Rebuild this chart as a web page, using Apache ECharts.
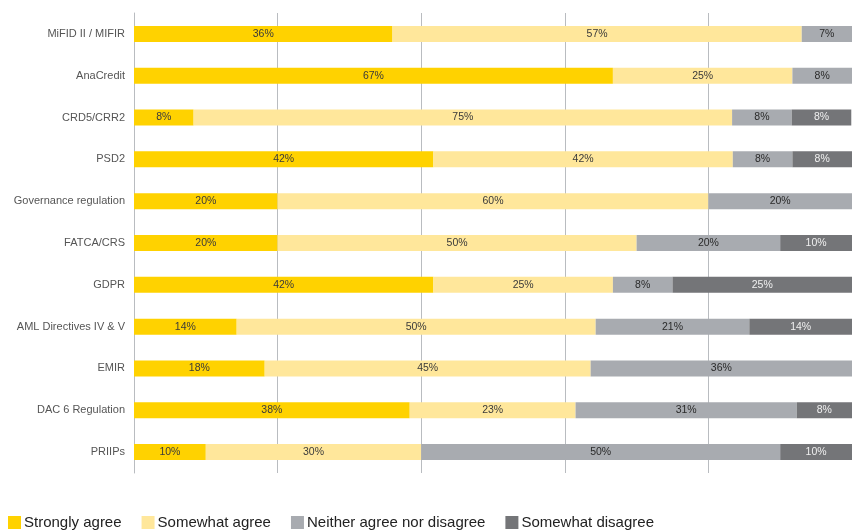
<!DOCTYPE html>
<html><head><meta charset="utf-8">
<script src="https://cdn.jsdelivr.net/npm/echarts@6/dist/echarts.min.js"></script>
<style>html,body{margin:0;padding:0;background:#fff}#c{width:852px;height:532px}</style>
</head><body><div id="c"></div>
<script>
const categories = ["MiFID II / MIFIR","AnaCredit","CRD5/CRR2","PSD2","Governance regulation","FATCA/CRS","GDPR","AML Directives IV & V","EMIR","DAC 6 Regulation","PRIIPs"];
const seriesNames = ["Strongly agree","Somewhat agree","Neither agree nor disagree","Somewhat disagree"];
const stronglyAgree   = [36, 66.7, 8.3, 41.7, 20, 20, 41.7, 14.3, 18.2, 38.4, 10];
const somewhatAgree   = [57, 25, 75, 41.7, 60, 50, 25, 50, 45.4, 23.1, 30];
const neither         = [7, 8.3, 8.3, 8.3, 20, 20, 8.3, 21.4, 36.4, 30.8, 50];
const somewhatDisagree= [0, 0, 8.3, 8.3, 0, 10, 25, 14.3, 0, 7.7, 10];
const colors = ["#FFD200","#FFE79B","#A8ABB0","#747578"];
const labelColors = ["#3a3a3a","#3a3a3a","#2a2a2a","#f0f0f0"];
const values = [stronglyAgree, somewhatAgree, neither, somewhatDisagree];
const font = "Liberation Sans, Arial, sans-serif";
const chart = echarts.init(document.getElementById('c'));
chart.setOption({
  animation:false,
  grid:{left:134,right:0,top:13,bottom:59,containLabel:false},
  legend:{left:3,bottom:-3,itemWidth:13,itemHeight:13,itemGap:20,icon:'rect',
    textStyle:{fontFamily:font,fontSize:15,color:'#222',padding:[0,0,0,-2]},data:seriesNames},
  xAxis:{type:'value',min:0,max:100,interval:20,axisLabel:{show:false},axisTick:{show:false},axisLine:{show:false},
    splitLine:{show:true,lineStyle:{color:'#b9bcc0',width:1}}},
  yAxis:{type:'category',data:categories,inverse:true,axisTick:{show:false},
    axisLine:{show:true,lineStyle:{color:'#b9bcc0'}},
    axisLabel:{fontFamily:font,fontSize:11,color:'#555',margin:9}},
  series: seriesNames.map((n,i)=>({
    name:n,type:'bar',stack:'s',barWidth:16,
    itemStyle:{color:colors[i]},
    data:values[i],
    label:{show:true,position:'inside',fontFamily:font,fontSize:10.5,color:labelColors[i],
      formatter:p=>p.value>0?Math.round(p.value)+'%':''}
  }))
});
</script></body></html>
